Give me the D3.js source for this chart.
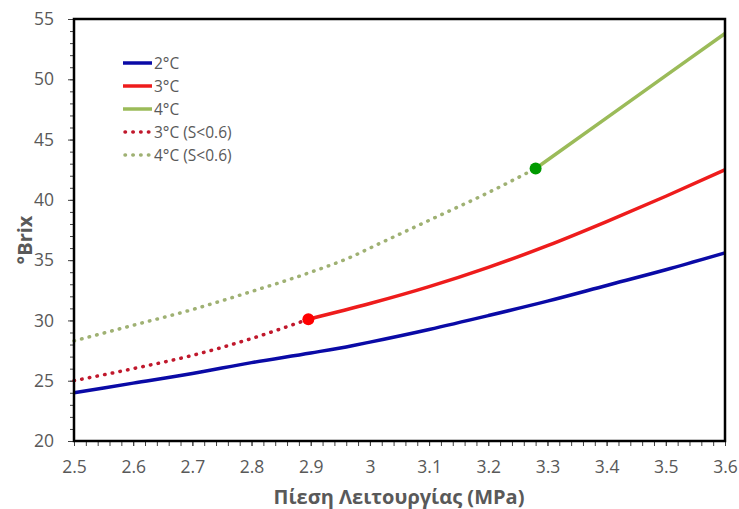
<!DOCTYPE html>
<html>
<head>
<meta charset="utf-8">
<script src="https://cdnjs.cloudflare.com/ajax/libs/d3/7.8.5/d3.min.js"></script>
<style>
	body { margin: 0; background: #ffffff; }
	text { font-family: "Open Sans", sans-serif; fill: #595959; }
	.tickLabel { font-size: 17.5px; }
	.axisTitle { font-size: 20px; font-weight: bold; }
	.legendLabel { font-size: 15.5px; }
</style>
</head>
<body>
<svg id="chart" width="739" height="509"></svg>
<script>
//chart values

var pressure2 = [2.5, 2.6, 2.7, 2.8, 2.9, 2.97, 3.0, 3.1, 3.2, 3.3, 3.4, 3.5, 3.6];
var brix2     = [24.0, 24.8, 25.6, 26.5, 27.3, 27.9, 28.2, 29.25, 30.4, 31.6, 32.9, 34.2, 35.6];

var pressure3 = [2.896, 3.0, 3.1, 3.2, 3.3, 3.4, 3.5, 3.6];
var brix3     = [30.1, 31.4, 32.8, 34.4, 36.2, 38.2, 40.3, 42.5];

var pressure4 = [3.28, 3.4, 3.5, 3.6];
var brix4     = [42.6, 46.8, 50.3, 53.8];

var pressure3Low = [2.5, 2.6, 2.7, 2.8, 2.896];
var brix3Low     = [25.0, 26.0, 27.1, 28.5, 30.1];

var pressure4Low = [2.5, 2.6, 2.7, 2.8, 2.9, 2.97, 3.0, 3.1, 3.2, 3.28];
var brix4Low     = [28.3, 29.6, 30.9, 32.4, 34.0, 35.3, 36.0, 38.3, 40.6, 42.6];

//transition points between dotted and solid parts
var markerPressure = [2.896, 3.28];
var markerBrix = [30.1, 42.6];

var legendLabels = ["2°C", "3°C", "4°C", "3°C (S<0.6)", "4°C (S<0.6)"];

var X_TICKS = [2.5, 2.6, 2.7, 2.8, 2.9, 3.0, 3.1, 3.2, 3.3, 3.4, 3.5, 3.6];
var Y_TICKS = [20, 25, 30, 35, 40, 45, 50, 55];

var PLOT_LEFT = 74;
var PLOT_RIGHT = 725;
var PLOT_TOP = 19;
var PLOT_BOTTOM = 441;

var svg = d3.select("#chart");

var x = d3.scaleLinear().domain([2.5, 3.6]).range([PLOT_LEFT, PLOT_RIGHT]);
var y = d3.scaleLinear().domain([20, 55]).range([PLOT_BOTTOM, PLOT_TOP]);

function zip(xs, ys) {
	return xs.map(function(v, i) { return [v, ys[i]]; });
}

var series = [
	{label: legendLabels[0], pts: zip(pressure2, brix2), color: "#0a0aa6", dotted: false},
	{label: legendLabels[1], pts: zip(pressure3, brix3), color: "#ee1c1c", dotted: false},
	{label: legendLabels[2], pts: zip(pressure4, brix4), color: "#9bbb59", dotted: false},
	{label: legendLabels[3], pts: zip(pressure3Low, brix3Low), color: "#c0182c", dotted: true},
	{label: legendLabels[4], pts: zip(pressure4Low, brix4Low), color: "#9fb173", dotted: true}
];

//minor ticks
var xMinor = d3.range(2.5, 3.6001, 0.02);
var yMinor = d3.range(20, 55.001, 1);

svg.append("g")
	.attr("transform", "translate(0," + PLOT_BOTTOM + ")")
	.call(d3.axisBottom(x).tickValues(xMinor).tickSize(5).tickFormat(""))
	.call(function(g) {
		g.select(".domain").remove();
		g.selectAll("line").attr("stroke", "#404040");
	});

svg.append("g")
	.attr("transform", "translate(" + PLOT_LEFT + ",0)")
	.call(d3.axisLeft(y).tickValues(yMinor).tickSize(4).tickFormat(""))
	.call(function(g) {
		g.select(".domain").remove();
		g.selectAll("line").attr("stroke", "#404040");
	});

//major ticks + labels
svg.append("g")
	.attr("transform", "translate(0," + PLOT_BOTTOM + ")")
	.call(d3.axisBottom(x).tickValues(X_TICKS).tickSize(5).tickPadding(15)
		.tickFormat(function(d) { return d3.format("")(+d.toFixed(1)); }))
	.call(function(g) {
		g.select(".domain").remove();
		g.selectAll("line").attr("stroke", "#404040");
		g.selectAll("text").attr("class", "tickLabel").attr("fill", null).attr("font-size", null).attr("font-family", null);
	});

svg.append("g")
	.attr("transform", "translate(" + PLOT_LEFT + ",0)")
	.call(d3.axisLeft(y).tickValues(Y_TICKS).tickSize(6).tickPadding(14))
	.call(function(g) {
		g.select(".domain").remove();
		g.selectAll("line").attr("stroke", "#404040");
		g.selectAll("text").attr("class", "tickLabel").attr("fill", null).attr("font-size", null).attr("font-family", null);
	});

//data lines
var line = d3.line()
	.curve(d3.curveMonotoneX)
	.x(function(d) { return x(d[0]); })
	.y(function(d) { return y(d[1]); });

var plot = svg.append("g");

plot.selectAll(".seriesLine")
	.data(series)
	.enter()
	.append("path")
	.attr("class", "seriesLine")
	.attr("d", function(d) { return line(d.pts); })
	.attr("fill", "none")
	.attr("stroke", function(d) { return d.color; })
	.attr("stroke-width", 3.5)
	.attr("stroke-linecap", function(d) { return d.dotted ? "round" : "butt"; })
	.attr("stroke-dasharray", function(d) { return d.dotted ? "0.5,7.3" : null; });

//transition markers
plot.selectAll(".marker")
	.data(zip(markerPressure, markerBrix))
	.enter()
	.append("circle")
	.attr("class", "marker")
	.attr("cx", function(d) { return x(d[0]); })
	.attr("cy", function(d) { return y(d[1]); })
	.attr("r", 6)
	.attr("fill", function(d, i) { return i == 0 ? "#ff0000" : "#009a00"; });

//plot frame
svg.append("rect")
	.attr("x", PLOT_LEFT)
	.attr("y", PLOT_TOP)
	.attr("width", PLOT_RIGHT - PLOT_LEFT)
	.attr("height", PLOT_BOTTOM - PLOT_TOP)
	.attr("fill", "none")
	.attr("stroke", "#000000")
	.attr("stroke-width", 2.5);

//axis titles
svg.append("text")
	.attr("class", "axisTitle")
	.attr("x", 399)
	.attr("y", 504)
	.attr("text-anchor", "middle")
	.text("Πίεση Λειτουργίας (MPa)");

svg.append("text")
	.attr("class", "axisTitle")
	.attr("transform", "translate(32,240) rotate(-90)")
	.attr("text-anchor", "middle")
	.text("°Brix");

//legend
var legend = svg.append("g")
	.attr("transform", "translate(123,63)");

legend.selectAll(".legendItem")
	.data(series)
	.enter()
	.append("g")
	.attr("class", "legendItem")
	.attr("transform", function(d, i) { return "translate(0," + (i * 23) + ")"; })
	.each(function(d) {
		d3.select(this)
			.append("line")
			.attr("x1", d.dotted ? 2 : 0)
			.attr("x2", 29)
			.attr("y1", 0)
			.attr("y2", 0)
			.attr("stroke", d.color)
			.attr("stroke-width", 3.5)
			.attr("stroke-linecap", d.dotted ? "round" : "butt")
			.attr("stroke-dasharray", d.dotted ? "0.5,7.3" : null);

		d3.select(this)
			.append("text")
			.attr("class", "legendLabel")
			.attr("x", 31)
			.attr("y", 5.5)
			.text(d.label);
	});
</script>
</body>
</html>
